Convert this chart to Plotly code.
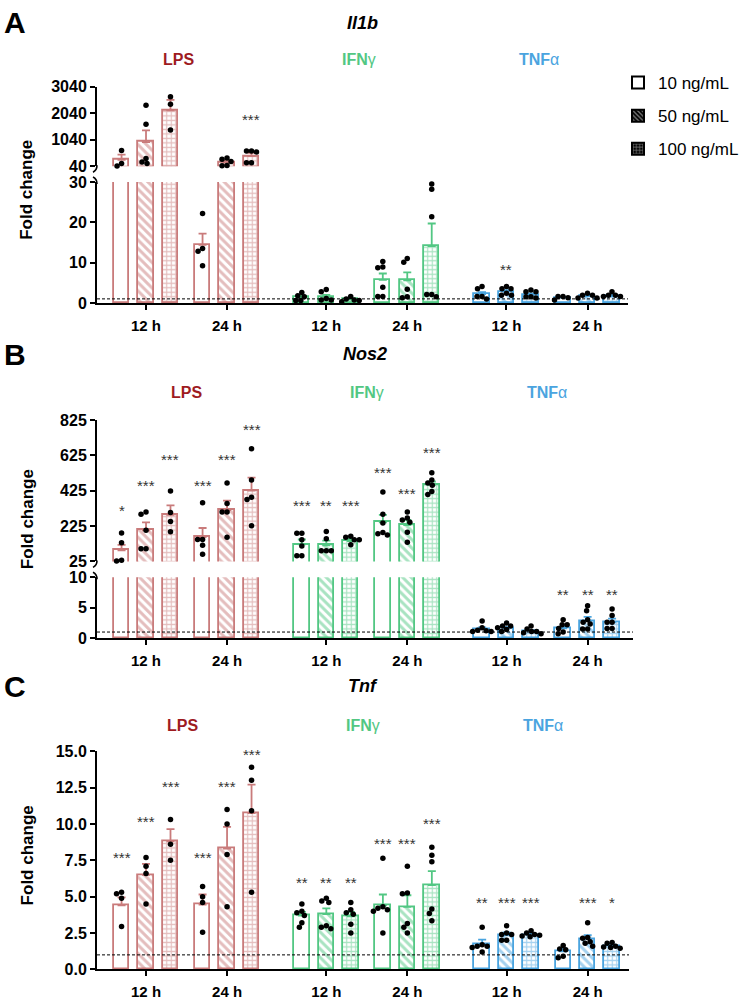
import plotly.graph_objects as go

FONT = "Liberation Sans, Arial, Helvetica, sans-serif"
W, H = 750, 1003

STIM_LABELS = ["<b>LPS</b>", "<b>IFN</b>γ", "<b>TNF</b>α"]
TIMES = ["12 h", "24 h"]
CONCS = ["10 ng/mL", "50 ng/mL", "100 ng/mL"]

# order of every array: LPS 12h (10,50,100), LPS 24h (10,50,100),
# IFNγ 12h (10,50,100), IFNγ 24h (...), TNFα 12h (...), TNFα 24h (...)
IL1B_MEAN = [280, 950, 2150, 14.4, 190, 421,
             1.4, 1.5, 0.85, 5.7, 5.6, 14.1,
             2.2, 2.8, 2.0, 1.3, 1.6, 1.6]
IL1B_SEM = [200, 445, 390, 2.8, 50, 120,
            0.35, 0.5, 0.2, 1.6, 2.0, 5.6,
            0.5, 0.35, 0.35, 0.2, 0.25, 0.25]
IL1B_DOTS = [
    [630, 140, 50], [2340, 1627, 330, 200, 140], [2660, 2377, 1405],
    [22.2, 13.5, 12.8, 9.2], [350, 300, 220, 65, 60], [618, 618, 581, 175, 175],
    [2.6, 1.8, 1.5, 0.6, 0.6], [3.3, 2.8, 1.1, 0.7, 0.7], [1.6, 1.0, 0.7, 0.6, 0.3],
    [10.3, 8.9, 8.7, 3.9, 1.6, 1.6], [11.0, 10.1, 3.4, 1.5, 1.3], [29.5, 28.2, 21.4, 2.1, 2.1, 1.5],
    [4.1, 3.5, 1.6, 1.6, 1.0], [4.1, 3.5, 3.5, 2.4, 1.9, 1.9], [3.2, 2.8, 2.8, 1.5, 1.5, 1.2],
    [1.6, 1.6, 1.3, 0.7], [2.4, 1.9, 1.9, 1.2, 1.2], [2.8, 1.9, 1.9, 1.6, 1.6],
]
IL1B_SIG = ["", "*", "***", "", "", "***",
            "", "", "", "", "", "",
            "", "**", "", "", "", ""]
IL1B_SIG_Y = [0, 3060, 3060, 0, 0, 1900,
              0, 0, 0, 0, 0, 0,
              0, 9.0, 0, 0, 0, 0]
IL1B_LOWER_TICKS = [0, 10, 20, 30]
IL1B_UPPER_TICKS = [40, 1040, 2040, 3040]

NOS2_MEAN = [88, 201, 288, 162, 315, 425,
             121, 116, 140, 246, 231, 458,
             1.5, 1.6, 1.1, 1.6, 2.8, 2.6]
NOS2_SEM = [31, 45, 54, 52, 54, 74,
            28, 27, 13, 42, 29, 19,
            0.25, 0.2, 0.15, 0.3, 0.7, 0.6]
NOS2_DOTS = [
    [186, 131, 32, 27], [304, 292, 201, 97, 97], [423, 301, 251, 193],
    [357, 149, 149, 116, 66], [468, 353, 304, 304, 162], [662, 486, 388, 375, 227],
    [184, 184, 147, 112, 57, 57], [195, 153, 85, 85, 85], [168, 162, 147, 147, 119],
    [418, 292, 242, 188, 181, 175], [304, 271, 260, 246, 190, 134], [527, 486, 468, 455, 421, 403],
    [2.8, 1.7, 1.3, 1.2, 1.1, 1.1], [2.5, 2.0, 2.0, 1.7, 1.4, 1.1], [2.0, 1.5, 1.1, 1.1, 0.9, 0.7],
    [3.0, 2.2, 2.2, 1.6, 1.0, 0.7], [5.3, 4.5, 3.0, 2.6, 2.3, 1.5, 1.5], [4.8, 3.7, 2.6, 2.6, 1.6, 1.6],
]
NOS2_SIG = ["*", "***", "***", "***", "***", "***",
            "***", "**", "***", "***", "***", "***",
            "", "", "", "**", "**", "**"]
NOS2_SIG_Y = [329, 473, 619, 473, 619, 786,
              357, 357, 357, 542, 427, 657,
              0, 0, 0, 7.7, 7.7, 7.7]
NOS2_LOWER_TICKS = [0, 5, 10]
NOS2_UPPER_TICKS = [25, 225, 425, 625, 825]

TNF_MEAN = [4.4, 6.5, 8.8, 4.45, 8.3, 10.75,
            3.7, 3.8, 3.65, 4.4, 4.3, 5.8,
            1.75, 2.35, 2.35, 1.25, 2.1, 1.6]
TNF_SEM = [0.55, 0.75, 0.85, 0.7, 1.5, 1.95,
           0.25, 0.4, 0.3, 0.75, 0.8, 0.95,
           0.3, 0.2, 0.1, 0.2, 0.25, 0.1]
TNF_DOTS = [
    [5.3, 5.2, 4.9, 2.95], [7.7, 7.1, 6.6, 4.5], [10.3, 8.6, 7.5],
    [5.7, 5.0, 4.6, 2.55], [11.0, 10.0, 7.9, 4.3], [13.9, 13.0, 10.9, 5.3],
    [4.5, 4.0, 3.9, 3.7, 3.2, 2.9], [4.9, 4.7, 4.6, 3.0, 2.9, 2.8], [4.6, 4.1, 3.9, 3.8, 3.1, 2.5],
    [7.65, 4.3, 4.2, 4.1, 4.0, 2.5], [7.1, 5.25, 5.2, 3.15, 2.9, 2.5], [8.4, 7.85, 7.4, 4.15, 3.85, 3.35],
    [2.9, 1.7, 1.6, 1.6, 1.5, 1.2], [3.0, 2.5, 2.4, 2.4, 2.0, 2.0], [2.65, 2.5, 2.4, 2.35, 2.3, 2.25],
    [1.65, 1.4, 1.35, 0.9, 0.8], [3.2, 2.2, 2.15, 1.9, 1.8, 1.6], [1.85, 1.8, 1.6, 1.55, 1.5, 1.45],
]
TNF_SIG = ["***", "***", "***", "***", "***", "***",
           "**", "**", "**", "***", "***", "***",
           "**", "***", "***", "", "***", "*"]
TNF_SIG_Y = [7.9, 10.4, 12.8, 7.9, 12.8, 14.95,
             6.15, 6.15, 6.15, 8.83, 8.83, 10.25,
             4.84, 4.84, 4.84, 0, 4.84, 4.84]
TNF_TICKS = [0, 2.5, 5, 7.5, 10, 12.5, 15]

# ---------------- styling / layout ----------------
BAR_COLORS = ["#c97b7b", "#52c783", "#4aa4df"]
LABEL_COLORS = ["#9e1b1f", "#52c783", "#4aa4df"]
PATTERNS = ["", "\\", "+"]
PAT_SIZE = [6, 6, 4.5]
PAT_SOLID = [0.3, 0.5, 0.45]
GAP = 1.225
OFFSET = 0.302
BAR_W = 0.19
X_MIN = -0.605


def group_center(s, t):
    return s * (1 + GAP) + t


def bar_x(s, t, c):
    return group_center(s, t) + (c - 1) * OFFSET


def px(x):
    return x / W


def py(y):
    return 1 - y / H


PANELS = [
    dict(letter="A", gene="Il1b", mean=IL1B_MEAN, sem=IL1B_SEM, dots=IL1B_DOTS,
         sig=IL1B_SIG, sig_y=IL1B_SIG_Y, xaxis="x", x_px=(97, 628), x_max=5.95,
         segments=[dict(axis="y", range=[0, 30], px=(177, 300), ticks=IL1B_LOWER_TICKS, fmt=""),
                   dict(axis="y2", range=[40, 3040], px=(80, 161), ticks=IL1B_UPPER_TICKS, fmt="")],
         head_y=15, stim_y=52, stim_dx=-8, ytitle_y=185),
    dict(letter="B", gene="Nos2", mean=NOS2_MEAN, sem=NOS2_SEM, dots=NOS2_DOTS,
         sig=NOS2_SIG, sig_y=NOS2_SIG_Y, xaxis="x2", x_px=(97, 633), x_max=6.01,
         segments=[dict(axis="y3", range=[0, 10], px=(579, 641), ticks=NOS2_LOWER_TICKS, fmt=""),
                   dict(axis="y4", range=[25, 825], px=(419, 563), ticks=NOS2_UPPER_TICKS, fmt="")],
         head_y=352, stim_y=391, stim_dx=0, ytitle_y=520),
    dict(letter="C", gene="Tnf", mean=TNF_MEAN, sem=TNF_SEM, dots=TNF_DOTS,
         sig=TNF_SIG, sig_y=TNF_SIG_Y, xaxis="x3", x_px=(97, 629), x_max=5.96,
         segments=[dict(axis="y5", range=[0, 15], px=(756, 978), ticks=TNF_TICKS, fmt=".1f")],
         head_y=690, stim_y=730, stim_dx=-4, ytitle_y=862),
]


def swarm(ys, d=5.0):
    order = sorted(range(len(ys)), key=lambda i: ys[i])
    cands = sorted({k * 0.5 for k in range(-40, 41)}, key=lambda o: (abs(o), o))
    placed, offs = [], [0.0] * len(ys)
    for i in order:
        for o in cands:
            if all((o - po) ** 2 + (ys[i] - pyy) ** 2 >= d * d for po, pyy in placed):
                offs[i] = o
                placed.append((o, ys[i]))
                break
    return offs


fig = go.Figure()
annotations, shapes, axes = [], [], {}

axis_common = dict(showline=True, linecolor="black", linewidth=2, ticks="outside",
                   ticklen=5, tickwidth=2, tickcolor="black", showgrid=False,
                   zeroline=False, fixedrange=True)

for p in PANELS:
    xa = p["xaxis"]
    x0px, x1px = p["x_px"]
    xr = [X_MIN, p["x_max"]]
    ppu = (x1px - x0px) / (xr[1] - xr[0])
    segs = p["segments"]
    lower = segs[0]
    centers = [group_center(s, t) for s in range(3) for t in range(2)]
    axes["xaxis" + xa[1:]] = dict(
        axis_common, domain=[px(x0px), px(x1px)], range=xr, anchor=lower["axis"],
        tickvals=centers, ticktext=[TIMES[t] for s in range(3) for t in range(2)],
        tickfont=dict(family=FONT, size=15, color="black", weight="bold"),
        ticklabelstandoff=3)
    for seg in segs:
        axes["yaxis" + seg["axis"][1:]] = dict(
            axis_common, domain=[py(seg["px"][1]), py(seg["px"][0])], range=seg["range"],
            anchor=xa, tickvals=seg["ticks"], tickformat=seg["fmt"],
            tickfont=dict(family=FONT, size=16, color="black", weight="bold"))

    def seg_of(v):
        if len(segs) == 2 and v >= segs[1]["range"][0]:
            return segs[1]
        return segs[0]

    def to_px(v):
        seg = seg_of(v)
        r0, r1 = seg["range"]
        t, b = seg["px"]
        return t + (r1 - v) / (r1 - r0) * (b - t)

    # bars (each segment shows the bars that reach into it; axis ranges clip the rest)
    for seg in segs:
        for s in range(3):
            for c in range(3):
                idx = [s * 6 + t * 3 + c for t in range(2)
                       if p["mean"][s * 6 + t * 3 + c] >= seg["range"][0]]
                if not idx:
                    continue
                fig.add_trace(go.Bar(
                    x=[bar_x(s, (i // 3) % 2, c) for i in idx],
                    y=[p["mean"][i] for i in idx],
                    width=BAR_W, xaxis=xa, yaxis=seg["axis"],
                    marker=dict(color="white", line=dict(color=BAR_COLORS[s], width=1.8),
                                pattern=dict(shape=PATTERNS[c], fgcolor=BAR_COLORS[s],
                                             bgcolor="white", size=PAT_SIZE[c],
                                             solidity=PAT_SOLID[c], fillmode="overlay")),
                    error_y=dict(type="data", symmetric=False,
                                 array=[p["sem"][i] for i in idx], arrayminus=[0] * len(idx),
                                 color=BAR_COLORS[s], thickness=1.8, width=4),
                    showlegend=False, hoverinfo="skip"))

    # dots
    seg_pts = {seg["axis"]: ([], []) for seg in segs}
    for s in range(3):
        for t in range(2):
            for c in range(3):
                i = s * 6 + t * 3 + c
                vals = p["dots"][i]
                offs = swarm([to_px(v) for v in vals])
                for v, o in zip(vals, offs):
                    ax = seg_of(v)["axis"]
                    seg_pts[ax][0].append(bar_x(s, t, c) + o / ppu)
                    seg_pts[ax][1].append(v)
    for ax, (xs, ys) in seg_pts.items():
        fig.add_trace(go.Scatter(x=xs, y=ys, mode="markers", xaxis=xa, yaxis=ax,
                                 marker=dict(color="black", size=5.5, line=dict(width=0)),
                                 cliponaxis=False, showlegend=False, hoverinfo="skip"))

    # significance
    for i, lab in enumerate(p["sig"]):
        if not lab:
            continue
        s, t, c = i // 6, (i // 3) % 2, i % 3
        yv = p["sig_y"][i]
        ax = segs[1]["axis"] if len(segs) == 2 and yv >= segs[1]["range"][0] else segs[0]["axis"]
        annotations.append(dict(x=bar_x(s, t, c), y=yv, xref=xa, yref=ax, text=lab,
                                showarrow=False, yshift=-3, yanchor="middle",
                                font=dict(family=FONT, size=15, color="#333333")))

    # dashed baseline at fold change = 1
    shapes.append(dict(type="line", xref=xa + " domain", x0=0, x1=1, yref=lower["axis"],
                       y0=1, y1=1, line=dict(color="black", width=1, dash="3px,2px"),
                       layer="above"))

    # broken-axis marks
    if len(segs) == 2:
        ub = segs[1]["px"][1]
        lt = segs[0]["px"][0]
        shapes.append(dict(type="path", xref="paper", yref="paper",
                           path=f"M {px(97)},{py(ub - 1)} Q {px(97)},{py(ub + 4)} {px(93)},{py(ub + 6)}",
                           line=dict(color="black", width=1.6)))
        shapes.append(dict(type="path", xref="paper", yref="paper",
                           path=f"M {px(93)},{py(lt - 5)} Q {px(97)},{py(lt - 3)} {px(97)},{py(lt + 2)}",
                           line=dict(color="black", width=1.6)))

    # headings
    annotations.append(dict(x=px(2), y=py(p["head_y"]), xref="paper", yref="paper",
                            text=f"<b>{p['letter']}</b>", showarrow=False, xanchor="left",
                            yanchor="middle", font=dict(family=FONT, size=30, color="black")))
    annotations.append(dict(x=px((x0px + x1px) / 2), y=py(p["head_y"]), xref="paper",
                            yref="paper", text=f"<b><i>{p['gene']}</i></b>", showarrow=False,
                            yanchor="middle", font=dict(family=FONT, size=18, color="black")))
    for s in range(3):
        annotations.append(dict(x=(group_center(s, 0) + group_center(s, 1)) / 2,
                                y=py(p["stim_y"]), xref=xa, yref="paper",
                                text=STIM_LABELS[s], showarrow=False, yanchor="middle",
                                xshift=p["stim_dx"],
                                font=dict(family=FONT, size=16, color=LABEL_COLORS[s])))
    annotations.append(dict(x=px(27), y=py(p["ytitle_y"]), xref="paper", yref="paper",
                            text="<b>Fold change</b>", textangle=-90, showarrow=False,
                            xanchor="center", yanchor="middle",
                            font=dict(family=FONT, size=17, color="black")))

# legend entries
for c in range(3):
    fig.add_trace(go.Bar(
        x=[None], y=[None], name=CONCS[c], legendgroup=CONCS[c], xaxis="x", yaxis="y",
        marker=dict(color="white" if c == 0 else "black", line=dict(color="black", width=2),
                    pattern=dict(shape=PATTERNS[c], fgcolor="white", bgcolor="black",
                                 size=4, solidity=0.4, fillmode="overlay") if c else None),
        showlegend=True, hoverinfo="skip"))

fig.update_layout(
    width=W, height=H, autosize=False,
    margin=dict(l=0, r=0, t=0, b=0),
    paper_bgcolor="white", plot_bgcolor="white",
    barmode="overlay", bargap=0,
    showlegend=True,
    legend=dict(x=px(618), y=py(58), xanchor="left", yanchor="top",
                font=dict(family=FONT, size=17, color="black"),
                tracegroupgap=8, itemwidth=30, bgcolor="rgba(0,0,0,0)",
                traceorder="grouped"),
    annotations=annotations, shapes=shapes,
    font=dict(family=FONT),
    **axes,
)

fig.write_html("out.html")
